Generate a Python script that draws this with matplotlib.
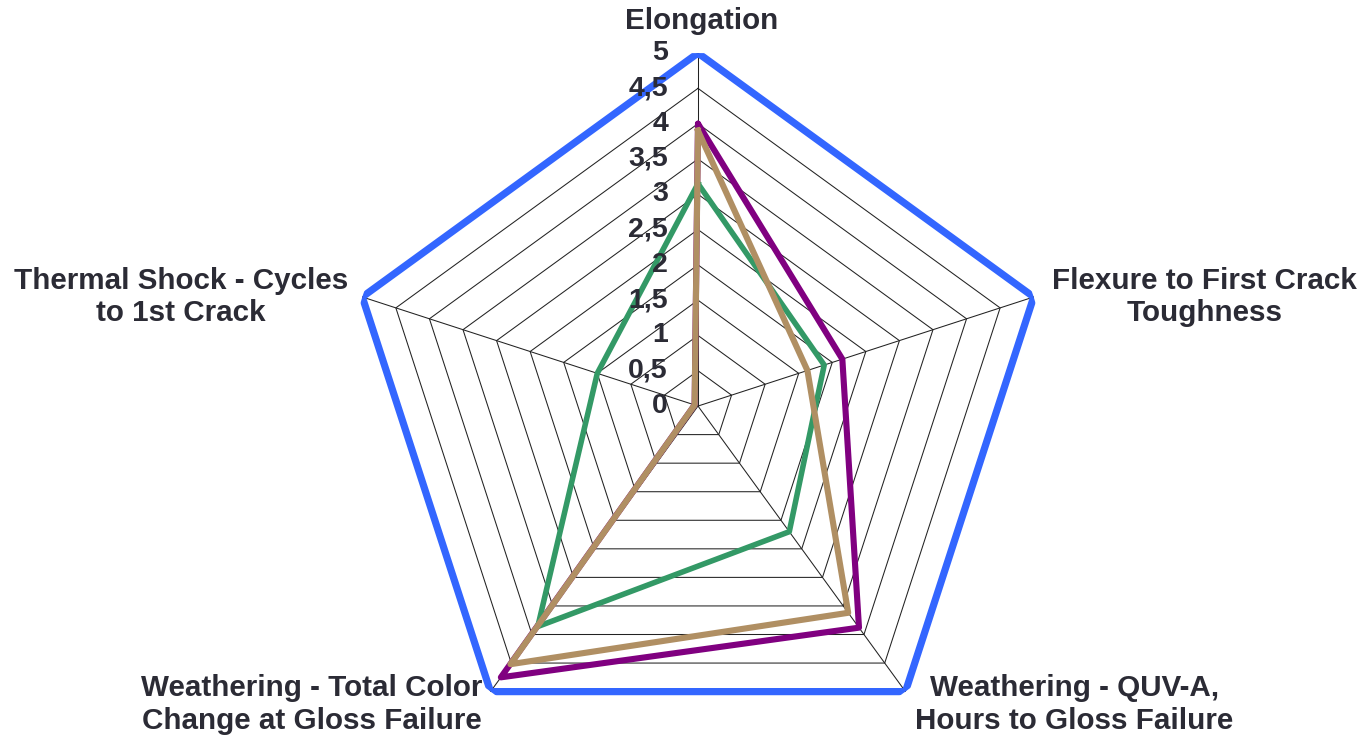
import numpy as np
import matplotlib.pyplot as plt
import matplotlib.transforms as mtransforms

plt.rcParams['font.family'] = ['Liberation Sans', 'DejaVu Sans']

# radar categories, clockwise from the top
categories = ["Elongation",
              "Flexure to First Crack\nToughness",
              "Weathering - QUV-A,\nHours to Gloss Failure",
              "Weathering - Total Color\nChange at Gloss Failure",
              "Thermal Shock - Cycles\nto 1st Crack"]

scale_max = [5, 5, 5, 5, 5]
purple_vals = [4.0, 2.15, 3.88, 4.75, 0.05]
green_vals = [3.15, 1.88, 2.2, 3.86, 1.5]
tan_vals = [3.9, 1.63, 3.62, 4.52, 0.05]

levels = [0, 0.5, 1, 1.5, 2, 2.5, 3, 3.5, 4, 4.5, 5]
level_labels = ["0", "0,5", "1", "1,5", "2", "2,5", "3", "3,5", "4", "4,5", "5"]

text_color = "#2b2b35"

n = len(categories)
angles = np.arange(n) * 2 * np.pi / n
closed = np.append(angles, angles[0])


def close(vals):
    return np.append(vals, vals[0])


def shifted(dx, dy):
    return mtransforms.offset_copy(ax.transData, fig=fig, x=dx, y=dy, units="dots")


fig = plt.figure(figsize=(13.61, 7.35), dpi=100)
ax = fig.add_axes([0.2535, -0.0327, 0.5187, 0.9605], projection="polar")
ax.set_theta_zero_location("N")
ax.set_theta_direction(-1)
ax.set_ylim(0, 5)
ax.grid(False)
ax.spines["polar"].set_visible(False)
ax.set_xticks([])
ax.set_yticks([])
ax.patch.set_visible(False)

# pentagon grid and spokes
for lv in levels[1:]:
    ax.plot(closed, [lv] * (n + 1), color="#222222", lw=0.75, zorder=1)
for a in angles:
    ax.plot([a, a], [0, 5], color="#222222", lw=0.75, zorder=1)

# series
ax.plot(closed, close(scale_max), color="#3366ff", lw=5.2, zorder=3,
        solid_joinstyle="miter")
ax.plot(closed, close(purple_vals), color="#800080", lw=4.4, zorder=4,
        solid_capstyle="round")
ax.plot(closed, close(green_vals), color="#339966", lw=4.0, zorder=5)
ax.plot(closed, close(tan_vals), color="#b08f63", lw=4.4, zorder=6)

# scale labels along the top spoke
for lv, lab in zip(levels, level_labels):
    ax.text(0, lv, lab, transform=shifted(-30, 0), ha="right", va="center",
            fontsize=20.5, fontweight="bold", color=text_color, zorder=7)

# category labels
fs = 21.3
label_kw = dict(fontsize=fs, fontweight="bold", color=text_color,
                multialignment="center", linespacing=1.2)
ax.text(0, 5, categories[0], ha="center", va="center",
        transform=shifted(4, 32), **label_kw)
ax.text(angles[1], 5, categories[1], ha="left", va="center",
        transform=shifted(18, 0), **label_kw)
ax.text(angles[2], 5, categories[2], ha="left", va="center",
        transform=shifted(10, -13), **label_kw)
ax.text(angles[3], 5, categories[3], ha="right", va="center",
        transform=shifted(-8, -13), **label_kw)
ax.text(angles[4], 5, categories[4], ha="right", va="center",
        transform=shifted(-14, 0), **label_kw)

fig.savefig("out.png", dpi=100)
